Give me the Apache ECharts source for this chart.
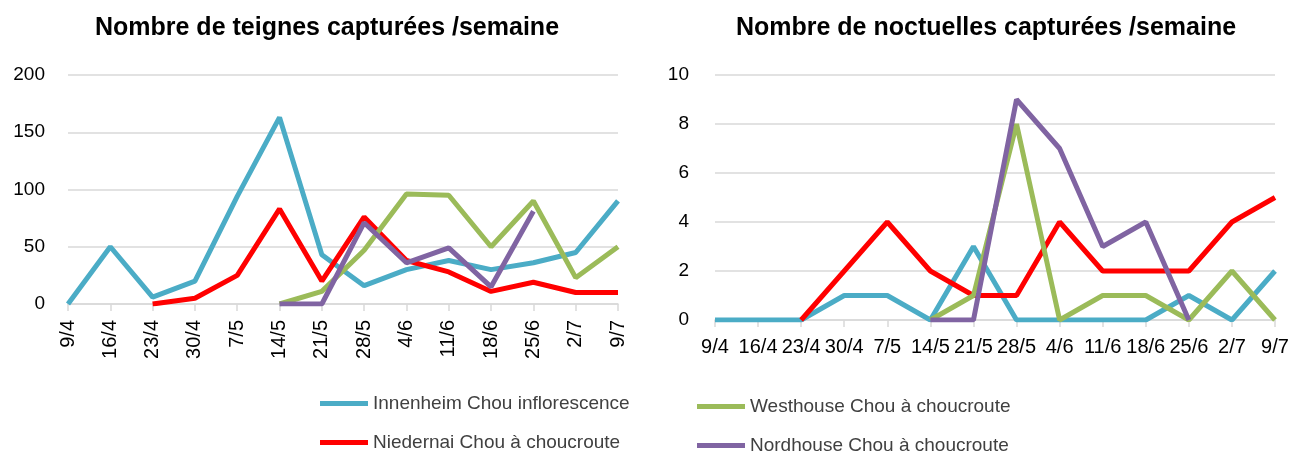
<!DOCTYPE html>
<html>
<head>
<meta charset="utf-8">
<script src="https://cdn.jsdelivr.net/npm/echarts@6/dist/echarts.min.js"></script>
<style>
    html, body { margin: 0; padding: 0; background: #fff; }
    #chart { width: 1295px; height: 454px; }
</style>
</head>
<body>
<div id="chart"></div>
<script>
    // semaines
    var weeks = ['9/4', '16/4', '23/4', '30/4', '7/5', '14/5', '21/5', '28/5', '4/6', '11/6', '18/6', '25/6', '2/7', '9/7'];

    var seriesNames = ['Innenheim Chou inflorescence', 'Niedernai Chou à choucroute', 'Westhouse Chou à choucroute', 'Nordhouse Chou à choucroute'];

    // teignes /semaine
    var teignesInnenheim = [0, 50, 6, 20, 94, 163, 43, 16, 30, 38, 30, 36, 45, 90];
    var teignesNiedernai = [null, null, 0, 5, 25, 83, 20, 76, 38, 28, 11, 19, 10, 10];
    var teignesWesthouse = [null, null, null, null, null, 0, 11, 47, 96, 95, 50, 90, 23, 50];
    var teignesNordhouse = [null, null, null, null, null, 0, 0, 71, 36, 49, 15, 81, null, null];

    // noctuelles /semaine
    var noctInnenheim = [0, 0, 0, 1, 1, 0, 3, 0, 0, 0, 0, 1, 0, 2];
    var noctNiedernai = [null, null, 0, 2, 4, 2, 1, 1, 4, 2, 2, 2, 4, 5];
    var noctWesthouse = [null, null, null, null, null, 0, 1, 8, 0, 1, 1, 0, 2, 0];
    var noctNordhouse = [null, null, null, null, null, 0, 0, 9, 7, 3, 4, 0, null, null];

    var colors = ['#4BACC6', '#FF0000', '#9BBB59', '#8064A2'];
    var font = 'Liberation Sans';

    function makeSeries(idx, data, axisIdx) {
        return {
            name: seriesNames[idx],
            type: 'line',
            xAxisIndex: axisIdx,
            yAxisIndex: axisIdx,
            data: data,
            symbol: 'none',
            lineStyle: { width: 5, color: colors[idx] },
            itemStyle: { color: colors[idx] }
        };
    }

    function xAxis(gridIdx, rotate) {
        return {
            type: 'category',
            gridIndex: gridIdx,
            data: weeks,
            boundaryGap: false,
            axisLine: { lineStyle: { color: '#D9D9D9', width: 1.5 } },
            axisTick: { show: true, length: 7, lineStyle: { color: '#D9D9D9', width: 1.5 } },
            axisLabel: {
                interval: 0,
                rotate: rotate,
                color: '#000',
                fontSize: 20,
                fontFamily: font,
                margin: rotate ? 16 : 17
            }
        };
    }

    function yAxis(gridIdx, max, interval, margin) {
        return {
            type: 'value',
            gridIndex: gridIdx,
            min: 0,
            max: max,
            interval: interval,
            axisLine: { show: false },
            axisTick: { show: false },
            splitLine: { lineStyle: { color: '#D9D9D9', width: 1.5 } },
            axisLabel: { color: '#000', fontSize: 19, fontFamily: font, margin: margin }
        };
    }

    function legendItem(name, left, top) {
        return {
            data: [name],
            left: left, top: top,
            padding: 0,
            itemWidth: 48, itemHeight: 5,
            icon: 'rect',
            textStyle: { fontSize: 19, color: '#404040', fontFamily: font }
        };
    }

    var chart = echarts.init(document.getElementById('chart'));
    chart.setOption({
        animation: false,
        textStyle: { fontFamily: font },
        title: [
            {
                text: 'Nombre de teignes capturées /semaine',
                left: 322, top: 11, textAlign: 'center',
                textStyle: { fontSize: 25, fontWeight: 'bold', color: '#000', fontFamily: font }
            },
            {
                text: 'Nombre de noctuelles capturées /semaine',
                left: 981, top: 11, textAlign: 'center',
                textStyle: { fontSize: 25, fontWeight: 'bold', color: '#000', fontFamily: font }
            }
        ],
        legend: [
            legendItem(seriesNames[0], 320, 394),
            legendItem(seriesNames[1], 320, 433),
            legendItem(seriesNames[2], 697, 397),
            legendItem(seriesNames[3], 697, 436)
        ],
        grid: [
            { left: 68, right: 677, top: 75, bottom: 150 },
            { left: 715, right: 20, top: 75, bottom: 134 }
        ],
        xAxis: [xAxis(0, 90), xAxis(1, 0)],
        yAxis: [yAxis(0, 200, 50, 23), yAxis(1, 10, 2, 26)],
        series: [
            makeSeries(0, teignesInnenheim, 0),
            makeSeries(1, teignesNiedernai, 0),
            makeSeries(2, teignesWesthouse, 0),
            makeSeries(3, teignesNordhouse, 0),
            makeSeries(0, noctInnenheim, 1),
            makeSeries(1, noctNiedernai, 1),
            makeSeries(2, noctWesthouse, 1),
            makeSeries(3, noctNordhouse, 1)
        ]
    });
</script>
</body>
</html>
